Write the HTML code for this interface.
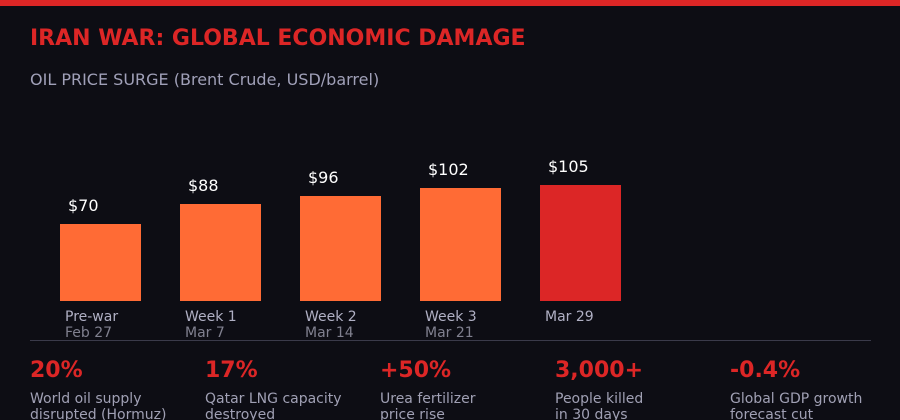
<!DOCTYPE html>
<html><head><meta charset="utf-8"><style>
html,body{margin:0;padding:0;background:#0d0d14;}
svg{display:block;font-family:"DejaVu Sans","Liberation Sans",sans-serif;}
</style></head><body>
<svg width="900" height="420" viewBox="0 0 900 420">
<rect width="900" height="420" fill="#0d0d14"/>
<rect width="900" height="6" fill="#dc2626"/>
<text x="30" y="45" font-size="22" font-weight="bold" fill="#dc2626">IRAN WAR: GLOBAL ECONOMIC DAMAGE</text>
<text x="30" y="85" font-size="16" fill="#a0a0b8">OIL PRICE SURGE (Brent Crude, USD/barrel)</text>
<g fill="#ff6b35">
<rect x="60" y="224" width="81" height="77"/>
<rect x="180" y="204" width="81" height="97"/>
<rect x="300" y="196" width="81" height="105"/>
<rect x="420" y="188" width="81" height="113"/>
</g>
<rect x="540" y="185" width="81" height="116" fill="#dc2626"/>
<g font-size="16" fill="#ffffff">
<text x="68" y="211">$70</text>
<text x="188" y="191">$88</text>
<text x="308" y="183">$96</text>
<text x="428" y="175">$102</text>
<text x="548" y="172">$105</text>
</g>
<g font-size="14" fill="#b0b0c4">
<text x="65" y="321">Pre-war</text>
<text x="185" y="321">Week 1</text>
<text x="305" y="321">Week 2</text>
<text x="425" y="321">Week 3</text>
<text x="545" y="321">Mar 29</text>
</g>
<g font-size="14" fill="#80808f">
<text x="65" y="337">Feb 27</text>
<text x="185" y="337">Mar 7</text>
<text x="305" y="337">Mar 14</text>
<text x="425" y="337">Mar 21</text>
</g>
<line x1="30" y1="340.5" x2="871" y2="340.5" stroke="#3a3a4a" stroke-width="1"/>
<g font-size="22" font-weight="bold" fill="#dc2626">
<text x="30" y="377">20%</text>
<text x="205" y="377">17%</text>
<text x="380" y="377">+50%</text>
<text x="555" y="377">3,000+</text>
<text x="730" y="377">-0.4%</text>
</g>
<g font-size="14" fill="#a0a0b4">
<text x="30" y="403">World oil supply</text><text x="30" y="419">disrupted (Hormuz)</text>
<text x="205" y="403">Qatar LNG capacity</text><text x="205" y="419">destroyed</text>
<text x="380" y="403">Urea fertilizer</text><text x="380" y="419">price rise</text>
<text x="555" y="403">People killed</text><text x="555" y="419">in 30 days</text>
<text x="730" y="403">Global GDP growth</text><text x="730" y="419">forecast cut</text>
</g>
</svg>
</body></html>
